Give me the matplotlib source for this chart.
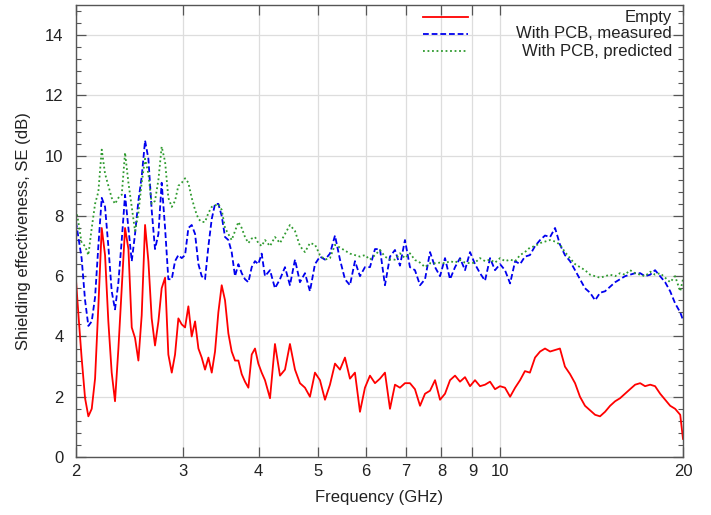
import matplotlib
matplotlib.use("Agg")
import matplotlib.pyplot as plt
from matplotlib.ticker import FixedLocator, NullLocator, MultipleLocator

plt.rcParams['font.family'] = ['Liberation Sans', 'DejaVu Sans']
plt.rcParams['font.size'] = 12

# frequency samples (GHz)
freq_ghz = [
    2.000, 2.018, 2.043, 2.070, 2.096, 2.123, 2.150, 2.177, 2.205, 2.233,
    2.261, 2.290, 2.319, 2.349, 2.379, 2.409, 2.440, 2.471, 2.502, 2.534,
    2.566, 2.599, 2.632, 2.665, 2.699, 2.734, 2.768, 2.804, 2.839, 2.876,
    2.912, 2.949, 2.987, 3.025, 3.063, 3.102, 3.142, 3.182, 3.222, 3.263,
    3.305, 3.347, 3.389, 3.432, 3.476, 3.520, 3.565, 3.610, 3.656, 3.703,
    3.750, 3.797, 3.846, 3.895, 3.944, 3.994, 4.045,
    4.096, 4.175, 4.254, 4.336, 4.419, 4.503, 4.590, 4.677, 4.767, 4.858,
    4.951, 5.046, 5.143, 5.241, 5.342, 5.444, 5.548, 5.654, 5.762, 5.873,
    5.985, 6.100, 6.217, 6.336, 6.457, 6.581, 6.707, 6.835, 6.966, 7.099,
    7.235, 7.376, 7.517, 7.661, 7.808, 7.957, 8.109, 8.265, 8.423, 8.584,
    8.748, 8.916, 9.086, 9.260, 9.438, 9.619, 9.803, 9.991, 10.18, 10.38,
    10.58, 10.78, 10.98, 11.19, 11.41, 11.63, 11.85, 12.08, 12.31, 12.54,
    12.78, 13.03, 13.28, 13.53, 13.79, 14.06, 14.33, 14.60, 14.88, 15.17,
    15.46, 15.75, 16.05, 16.36, 16.68, 17.00, 17.32, 17.66, 17.99, 18.34,
    18.69, 19.05, 19.41, 19.79, 20.00,
]

se_empty = [
    5.87, 4.75, 3.3, 1.95, 1.35, 1.6, 2.6, 5.0, 7.6, 6.7,
    4.5, 2.8, 1.85, 3.6, 5.6, 7.6, 6.9, 4.3, 3.95, 3.2,
    4.7, 7.7, 6.5, 4.6, 3.7, 4.5, 5.6, 5.95, 3.4, 2.8,
    3.4, 4.6, 4.4, 4.3, 5.0, 4.0, 4.5, 3.6, 3.3, 2.9,
    3.3, 2.8, 3.5, 4.8, 5.7, 5.2, 4.1, 3.5, 3.2, 3.2,
    2.75, 2.5, 2.3, 3.4, 3.6, 3.1, 2.8,
    2.55, 1.95, 3.75, 2.7, 2.9, 3.75, 2.9, 2.45, 2.3, 2.0,
    2.8, 2.55, 1.9, 2.4, 3.1, 2.9, 3.3, 2.6, 2.8, 1.5,
    2.3, 2.7, 2.45, 2.6, 2.8, 1.6, 2.4, 2.3, 2.45, 2.45,
    2.25, 1.7, 2.1, 2.2, 2.55, 1.9, 2.1, 2.55, 2.7, 2.5,
    2.65, 2.35, 2.55, 2.35, 2.4, 2.5, 2.25, 2.35, 2.3, 2.0,
    2.3, 2.55, 2.85, 2.8, 3.3, 3.5, 3.6, 3.5, 3.55, 3.6,
    3.0, 2.75, 2.45, 2.0, 1.7, 1.55, 1.4, 1.35, 1.5, 1.7,
    1.85, 1.95, 2.1, 2.25, 2.4, 2.45, 2.35, 2.4, 2.35, 2.1,
    1.9, 1.7, 1.6, 1.4, 0.6,
]

se_pcb_measured = [
    7.8, 7.3, 6.6, 5.2, 4.35, 4.5, 5.3, 7.0, 8.6, 8.3,
    7.0, 5.5, 4.9, 5.8, 7.2, 8.7, 7.6, 6.5, 7.4, 8.5,
    9.3, 10.5, 9.9, 8.2, 6.9, 7.4, 9.1, 7.6, 5.9, 5.9,
    6.5, 6.7, 6.6, 6.7, 7.6, 7.7, 7.4, 6.4, 6.0, 5.9,
    7.0, 7.9, 8.4, 8.4, 8.0, 7.3, 7.2, 6.8, 6.0, 6.4,
    6.1, 5.9, 5.8, 6.3, 6.5, 6.4, 6.75,
    6.0, 6.2, 5.6, 5.9, 6.3, 5.7, 6.55, 5.8, 6.1, 5.5,
    6.4, 6.65, 6.55, 6.75, 7.35, 6.55, 5.9, 5.7, 6.5, 6.0,
    6.3, 6.3, 6.9, 6.9, 5.7, 6.65, 6.87, 6.35, 7.2, 6.3,
    6.2, 5.7, 5.9, 6.8, 6.3, 6.0, 6.6, 5.9, 6.3, 6.6,
    6.2, 6.8, 6.4, 6.1, 5.85, 6.6, 6.2, 6.4, 6.2, 5.76,
    6.5, 6.4, 6.65, 6.7, 7.0, 7.2, 7.35, 7.3, 7.6, 7.05,
    6.7, 6.5, 6.2, 5.9, 5.6, 5.45, 5.2, 5.45, 5.5, 5.65,
    5.8, 5.9, 6.0, 6.05, 6.1, 6.1, 6.0, 6.05, 6.2, 6.0,
    5.8, 5.5, 5.1, 4.8, 4.55,
]

se_pcb_predicted = [
    8.2, 7.8, 7.1, 7.0, 6.7, 7.6, 8.4, 8.8, 10.2, 9.4,
    9.0, 8.6, 8.4, 8.6, 8.7, 10.1, 9.1, 8.3, 7.5, 8.1,
    9.1, 9.9, 9.4, 8.4, 8.5, 9.2, 10.3, 9.8, 8.6, 8.3,
    8.5, 9.0, 9.1, 9.25, 9.1, 8.6, 8.2, 7.9, 7.8, 7.8,
    8.1, 8.3, 8.35, 8.4, 8.2, 7.6, 7.4, 7.2, 7.5, 7.8,
    7.6, 7.3, 7.1, 7.25, 7.3, 7.1, 7.0,
    7.2, 7.0, 7.3, 7.1, 7.4, 7.7, 7.5, 7.0, 6.8, 7.1,
    7.05, 6.7, 6.55, 6.6, 7.04, 6.95, 6.85, 6.75, 6.7, 6.65,
    6.7, 6.55, 6.7, 6.87, 6.65, 6.55, 6.55, 6.76, 6.6, 6.76,
    6.54, 6.45, 6.3, 6.43, 6.43, 6.45, 6.43, 6.5, 6.45, 6.54,
    6.45, 6.43, 6.45, 6.6, 6.5, 6.55, 6.45, 6.6, 6.5, 6.55,
    6.5, 6.7, 6.8, 6.95, 7.0, 7.1, 7.15, 7.2, 7.15, 7.05,
    6.8, 6.6, 6.4, 6.3, 6.2, 6.05, 6.0, 5.95, 6.0, 6.05,
    6.0, 6.1, 6.05, 6.2, 6.1, 6.05, 6.0, 6.15, 6.05, 6.1,
    5.95, 5.8, 6.0, 5.5, 5.9,
]

x_ticks = [2, 3, 4, 5, 6, 7, 8, 9, 10, 20]
y_ticks = [0, 2, 4, 6, 8, 10, 12, 14]

series = [
    ("Empty", se_empty, "#ff0000", "-"),
    ("With PCB, measured", se_pcb_measured, "#0000ee", (0, (3.2, 1.6))),
    ("With PCB, predicted", se_pcb_predicted, "#2e9a2e", (0, (1.0, 1.5))),
]

fig = plt.figure(figsize=(7.11, 5.15), dpi=100)
ax = fig.add_axes([76 / 711, 58 / 515, 607 / 711, 452 / 515])

for label, values, color, style in series:
    ax.plot(freq_ghz, values, color=color, linestyle=style, linewidth=1.3)

ax.set_xscale("log")
ax.set_xlim(2, 20)
ax.set_ylim(0, 15)
ax.xaxis.set_major_locator(FixedLocator(x_ticks))
ax.xaxis.set_minor_locator(NullLocator())
ax.set_xticklabels([str(t) for t in x_ticks])
ax.yaxis.set_major_locator(FixedLocator(y_ticks))
ax.yaxis.set_minor_locator(MultipleLocator(0.4))

ax.grid(True, which="major", color="#dddddd", linewidth=0.9)
ax.set_axisbelow(True)

frame = "#555555"
for sp in ax.spines.values():
    sp.set_color(frame)
    sp.set_linewidth(1.0)
ax.tick_params(which="both", direction="in", top=True, right=True,
               color=frame, labelcolor="#222222")
ax.tick_params(which="major", length=7, width=0.9)
ax.tick_params(which="minor", length=3.5, width=0.8)
ax.tick_params(axis="x", pad=5)
ax.tick_params(axis="y", pad=9)

ax.set_xlabel("Frequency (GHz)", color="#222222", labelpad=8)
ax.set_ylabel("Shielding effectiveness, SE (dB)", color="#222222", labelpad=10)

# key in the top right corner, samples left of right-aligned text
rows = [0.973, 0.936, 0.898]
for (label, values, color, style), y in zip(series, rows):
    ax.plot([0.572, 0.646], [y, y], transform=ax.transAxes, color=color,
            linestyle=style, linewidth=1.3)
    ax.text(0.982, y, label, transform=ax.transAxes, ha="right", va="center",
            color="#222222")

fig.savefig("out.png", dpi=100)
